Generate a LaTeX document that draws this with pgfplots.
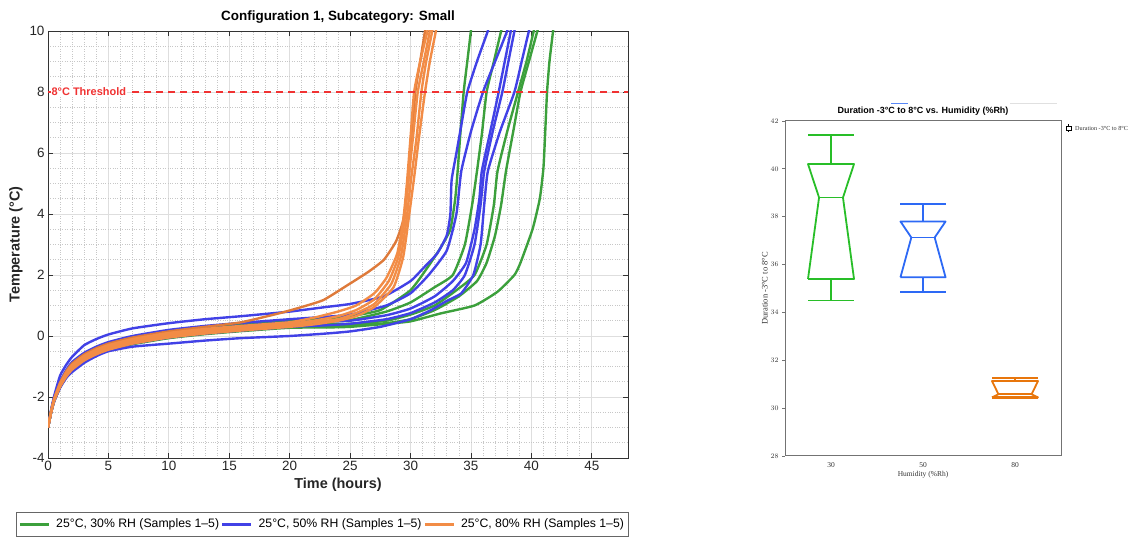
\documentclass[border=0pt]{standalone}
\usepackage{pgfplots}
\pgfplotsset{compat=1.18}
\usepackage{fontspec}
\setmainfont{Liberation Sans}
\newfontfamily\seriffont{Liberation Serif}
\definecolor{cg}{RGB}{60,160,60}
\definecolor{cb}{RGB}{65,65,230}
\definecolor{co}{RGB}{242,140,70}
\definecolor{cod}{RGB}{222,122,58}
\definecolor{bg}{RGB}{40,190,40}
\definecolor{bb}{RGB}{45,105,245}
\definecolor{bo}{RGB}{232,118,12}
\definecolor{thr}{RGB}{240,50,50}
\begin{document}
\begin{tikzpicture}[x=1bp,y=1bp]
\useasboundingbox (0,0) rectangle (1135,538);
% ---------------- left panel ----------------
\begin{axis}[at={(48bp,80bp)}, anchor=south west, width=580bp, height=427bp, scale only axis,
  xmin=0, xmax=48, ymin=-4, ymax=10,
  xtick={0,5,...,45}, ytick={-4,-2,...,10},
  minor x tick num=4, minor y tick num=3,
  grid=both,
  major grid style={black!13, line width=0.7bp},
  minor grid style={black!22, dotted, line width=0.6bp},
  tick align=inside, major tick length=5bp, minor tick length=0pt,
  axis line style={black!80, line width=0.8bp},
  tick style={black!80, line width=0.8bp},
  /pgf/number format/assume math mode=true,
  ticklabel style={font=\fontsize{13.5}{14}\selectfont, text=black!85},
  xlabel={Time (hours)}, ylabel={Temperature (°C)},
  label style={font=\bfseries\fontsize{14.5}{15}\selectfont, text=black!85},
  title={Configuration 1, Subcategory: Small},
  title style={font=\bfseries\fontsize{13.5}{14}\selectfont, yshift=-2bp},
  legend columns=3,
  legend style={at={(0.473,-0.127)}, anchor=north, draw=black!60, line width=0.8bp,
    font=\fontsize{12.3}{13}\selectfont, inner xsep=2bp, inner ysep=4.5bp,
    /tikz/every even column/.append style={column sep=0bp},
    /tikz/every odd column/.append style={column sep=4bp}},
  legend image code/.code={\draw[#1, line width=2.5bp] (0bp,0bp) -- (29bp,0bp);},
  every axis plot/.append style={line width=2.4bp, line join=round, smooth, tension=0.3},
]
\addlegendimage{cg}\addlegendentry{25°C, 30\% RH (Samples 1–5)}
\addlegendimage{cb}\addlegendentry{25°C, 50\% RH (Samples 1–5)}
\addlegendimage{co}\addlegendentry{25°C, 80\% RH (Samples 1–5)}
% green
\addplot[cg, forget plot] coordinates {(0,-3)(0.25,-2.48)(0.5,-2.06)(1,-1.53)(1.5,-1.16)(2,-0.9)(3,-0.6)(4,-0.4)(5,-0.25)(7,-0.05)(10,0.15)(13,0.28)(16,0.38)(20,0.5)(23,0.58)(25,0.65)(27.5,0.85)(30,1.5)(31.5,2.3)(32.5,2.9)(33.3,3.5)(33.7,4.5)(33.9,5.4)(34.1,6.5)(34.4,8)(34.7,9)(35.0,10)(35.1,10.3)};
\addplot[cg, forget plot] coordinates {(0,-3)(0.25,-2.5)(0.5,-2.1)(1,-1.6)(1.5,-1.25)(2,-1.0)(3,-0.7)(4,-0.5)(5,-0.35)(7,-0.15)(10,0.05)(13,0.18)(16,0.28)(20,0.4)(23,0.47)(25,0.52)(28,0.8)(30,1.1)(32,1.6)(33.5,2.0)(34.5,3.0)(35.1,4.3)(35.5,5.4)(35.9,6.6)(36.3,8)(36.9,9)(37.5,10)(37.7,10.3)};
\addplot[cg, forget plot] coordinates {(0,-3)(0.25,-2.51)(0.5,-2.12)(1,-1.64)(1.5,-1.3)(2,-1.05)(3,-0.75)(4,-0.55)(5,-0.4)(7,-0.2)(10,0.0)(13,0.13)(16,0.23)(20,0.35)(23,0.38)(25,0.4)(28,0.5)(30,0.7)(32,1.0)(33.8,1.5)(35.3,2.0)(36.3,3.0)(36.9,4.3)(37.2,5.4)(38.0,6.7)(38.9,8)(39.6,9)(40.2,10)(40.4,10.3)};
\addplot[cg, forget plot] coordinates {(0,-3)(0.25,-2.52)(0.5,-2.14)(1,-1.67)(1.5,-1.34)(2,-1.1)(3,-0.8)(4,-0.6)(5,-0.45)(7,-0.25)(10,-0.05)(13,0.08)(16,0.18)(20,0.3)(23,0.32)(25,0.35)(28,0.42)(30,0.55)(32,0.85)(34,1.3)(35.5,1.8)(36.3,2.4)(37.0,3.3)(37.5,4.3)(37.9,5.4)(38.5,6.7)(39.1,8)(39.8,9)(40.5,10)(40.7,10.3)};
\addplot[cg, forget plot] coordinates {(0,-3)(0.25,-2.52)(0.5,-2.15)(1,-1.68)(1.5,-1.36)(2,-1.12)(3,-0.82)(4,-0.62)(5,-0.47)(7,-0.27)(10,-0.07)(13,0.06)(16,0.16)(20,0.27)(23,0.28)(25,0.3)(28,0.4)(30,0.48)(32.5,0.74)(35.3,1.0)(37.2,1.45)(38.6,2.0)(39.1,2.4)(40.1,3.5)(40.7,4.5)(41.0,5.5)(41.15,6.7)(41.3,8)(41.5,9)(41.8,10)(41.9,10.3)};
% blue
\addplot[cb, forget plot] coordinates {(0,-3)(0.25,-2.44)(0.5,-1.98)(1,-1.3)(1.5,-0.95)(2,-0.68)(3,-0.3)(4,-0.1)(5,0.05)(7,0.25)(10,0.42)(13,0.55)(16,0.65)(20,0.8)(23,0.95)(25,1.05)(27.8,1.3)(30,1.8)(31,2.2)(32.2,2.7)(33,3.3)(33.3,4.0)(33.4,5.1)(33.8,6.0)(34.2,6.9)(34.7,8)(35.5,9)(36.4,10)(36.6,10.3)};
\addplot[cb, forget plot] coordinates {(0,-3)(0.25,-2.47)(0.5,-2.04)(1,-1.5)(1.5,-1.12)(2,-0.85)(3,-0.55)(4,-0.35)(5,-0.2)(7,0.0)(10,0.2)(13,0.33)(16,0.43)(20,0.55)(23,0.63)(25,0.7)(28,1.0)(30,1.4)(31.5,2.0)(33,2.8)(33.8,4.0)(34.2,5.4)(35,6.7)(36.0,8)(37,9)(38.0,10)(38.2,10.3)};
\addplot[cb, forget plot] coordinates {(0,-3)(0.25,-2.49)(0.5,-2.08)(1,-1.56)(1.5,-1.2)(2,-0.95)(3,-0.65)(4,-0.45)(5,-0.3)(7,-0.1)(10,0.1)(13,0.23)(16,0.33)(20,0.45)(23,0.48)(25,0.5)(28,0.68)(30,0.9)(32,1.3)(33.5,1.8)(34.6,2.4)(35.3,3.5)(35.7,4.5)(35.9,5.4)(36.6,6.7)(37.3,8)(37.8,9)(38.3,10)(38.4,10.3)};
\addplot[cb, forget plot] coordinates {(0,-3)(0.25,-2.52)(0.5,-2.14)(1,-1.67)(1.5,-1.34)(2,-1.1)(3,-0.8)(4,-0.6)(5,-0.45)(7,-0.25)(10,-0.05)(13,0.08)(16,0.18)(20,0.3)(23,0.35)(25,0.4)(28,0.55)(30,0.75)(32,1.1)(33.5,1.5)(34.5,2.0)(35.3,3.0)(35.8,4.3)(36.1,5.4)(36.8,6.7)(37.6,8)(38.1,9)(38.6,10)(38.7,10.3)};
\addplot[cb, forget plot] coordinates {(0,-3)(0.25,-2.53)(0.5,-2.16)(1,-1.7)(1.5,-1.38)(2,-1.18)(3,-0.88)(4,-0.66)(5,-0.5)(7,-0.35)(10,-0.25)(13,-0.15)(16,-0.07)(20,0.0)(23,0.08)(25,0.15)(27.5,0.3)(30,0.55)(31.7,0.85)(33,1.15)(34.2,1.4)(35.2,2.0)(35.8,3.0)(36.1,4.3)(36.4,5.4)(37.4,6.7)(38.6,8)(39.2,9)(39.8,10)(40.0,10.3)};
% orange
\addplot[cod, forget plot] coordinates {(0,-3)(0.25,-2.48)(0.5,-2.06)(1,-1.53)(1.5,-1.16)(2,-0.9)(3,-0.6)(4,-0.4)(5,-0.25)(7,-0.05)(10,0.15)(13,0.3)(16,0.45)(19.2,0.75)(21,0.95)(22.8,1.18)(24.8,1.67)(26.5,2.1)(27.8,2.5)(28.8,3.1)(29.4,3.8)(29.8,5.0)(30.1,6.5)(30.4,8)(30.8,9)(31.2,10)(31.3,10.3)};
\addplot[co, forget plot] coordinates {(0,-3)(0.25,-2.49)(0.5,-2.08)(1,-1.56)(1.5,-1.2)(2,-0.95)(3,-0.65)(4,-0.45)(5,-0.3)(7,-0.1)(10,0.1)(13,0.23)(16,0.33)(20,0.45)(22,0.6)(24,0.8)(25.5,1.0)(27,1.4)(28,1.9)(28.9,2.7)(29.4,3.8)(29.7,5.0)(30.0,6.5)(30.3,8)(30.8,9)(31.4,10)(31.5,10.3)};
\addplot[co, forget plot] coordinates {(0,-3)(0.25,-2.5)(0.5,-2.1)(1,-1.6)(1.5,-1.25)(2,-1.0)(3,-0.7)(4,-0.5)(5,-0.35)(7,-0.15)(10,0.05)(13,0.18)(16,0.28)(20,0.4)(22,0.5)(24,0.65)(25.5,0.85)(27,1.2)(28.2,1.8)(29.0,2.6)(29.5,3.8)(29.8,5.0)(30.2,6.5)(30.6,8)(31.1,9)(31.6,10)(31.7,10.3)};
\addplot[co, forget plot] coordinates {(0,-3)(0.25,-2.51)(0.5,-2.12)(1,-1.64)(1.5,-1.3)(2,-1.05)(3,-0.75)(4,-0.55)(5,-0.4)(7,-0.2)(10,0.0)(13,0.13)(16,0.23)(20,0.35)(22,0.45)(24,0.55)(25.5,0.75)(27,1.05)(28.4,1.7)(29.2,2.6)(29.7,3.9)(30.0,5.0)(30.5,6.5)(30.9,8)(31.3,9)(31.8,10)(31.9,10.3)};
\addplot[co, forget plot] coordinates {(0,-3)(0.25,-2.52)(0.5,-2.14)(1,-1.67)(1.5,-1.34)(2,-1.1)(3,-0.8)(4,-0.6)(5,-0.45)(7,-0.25)(10,-0.05)(13,0.08)(16,0.18)(20,0.3)(22,0.38)(24,0.5)(25.5,0.65)(27,0.95)(28.6,1.6)(29.4,2.6)(29.9,4.0)(30.3,5.2)(30.7,6.5)(31.2,8)(31.6,9)(32.1,10)(32.2,10.3)};
% threshold
\addplot[thr, forget plot, sharp plot, line width=2bp, dash pattern=on 7bp off 5bp] coordinates {(0,8)(48,8)};
\node[anchor=west, fill=white, inner sep=1bp, text=thr, font=\bfseries\fontsize{11}{11}\selectfont] at (axis cs:0.2,8) {8°C Threshold};
\end{axis}
% ---------------- right panel ----------------
\begin{axis}[at={(785bp,82bp)}, anchor=south west, width=276bp, height=335bp, scale only axis,
  xmin=0.5, xmax=3.5, ymin=28, ymax=42,
  xtick={1,2,3}, xticklabels={30,50,80}, ytick={28,30,...,42},
  axis line style={black!55, line width=1bp},
  xtick pos=bottom, ytick pos=left, tick align=outside,
  major tick length=3bp,
  x tick style={draw=none}, y tick style={black!55, line width=0.8bp},
  ticklabel style={font=\seriffont\fontsize{7.5}{8}\selectfont, text=black!80},
  xlabel={Humidity (\%Rh)}, ylabel={Duration -3°C to 8°C},
  xlabel style={font=\seriffont\fontsize{7.5}{8}\selectfont, text=black!80, yshift=3bp},
  ylabel style={font=\seriffont\fontsize{8.5}{9}\selectfont, text=black!80, yshift=-4bp},
  title={Duration -3°C to 8°C vs. Humidity (\%Rh)},
  title style={font=\bfseries\fontsize{9}{10}\selectfont, yshift=-4bp},
  every axis plot/.append style={line join=round, line cap=butt},
]
% 30 %Rh
\addplot[bg, line width=1.8bp] coordinates {(0.75,35.4)(0.87,38.8)(0.75,40.2)(1.25,40.2)(1.13,38.8)(1.25,35.4)(0.75,35.4)};
\addplot[bg, line width=1.8bp] coordinates {(0.87,38.8)(1.13,38.8)};
\addplot[bg, line width=1.8bp] coordinates {(1,40.2)(1,41.4)};
\addplot[bg, line width=1.8bp] coordinates {(0.75,41.4)(1.25,41.4)};
\addplot[bg, line width=1.8bp] coordinates {(1,35.4)(1,34.5)};
\addplot[bg, line width=1.8bp] coordinates {(0.75,34.5)(1.25,34.5)};
% 50 %Rh
\addplot[bb, line width=1.8bp] coordinates {(1.755,35.47)(1.873,37.13)(1.755,37.8)(2.245,37.8)(2.127,37.13)(2.245,35.47)(1.755,35.47)};
\addplot[bb, line width=1.8bp] coordinates {(1.873,37.13)(2.127,37.13)};
\addplot[bb, line width=1.8bp] coordinates {(2,37.8)(2,38.53)};
\addplot[bb, line width=1.8bp] coordinates {(1.755,38.53)(2.245,38.53)};
\addplot[bb, line width=1.8bp] coordinates {(2,35.47)(2,34.87)};
\addplot[bb, line width=1.8bp] coordinates {(1.755,34.87)(2.245,34.87)};
% 80 %Rh
\addplot[bo, line width=1.8bp] coordinates {(2.75,30.45)(2.82,30.58)(2.75,31.13)(3.25,31.13)(3.18,30.58)(3.25,30.45)(2.75,30.45)};
\addplot[bo, line width=1.8bp] coordinates {(2.82,30.58)(3.18,30.58)};
\addplot[bo, line width=1.2bp] coordinates {(3,31.13)(3,31.26)};
\addplot[bo, line width=1.8bp] coordinates {(2.75,31.26)(3.25,31.26)};
\addplot[bo, line width=2.4bp] coordinates {(2.75,30.45)(3.25,30.45)};
\end{axis}
% right legend
\draw[black, line width=0.8bp] (1066,408) rectangle (1071,412);
\draw[black, line width=0.8bp] (1068.5,406) -- (1068.5,408) (1068.5,412) -- (1068.5,414);
\node[anchor=west, inner sep=0pt, font=\seriffont\fontsize{6.2}{7}\selectfont, text=black!80] at (1075,410) {Duration -3°C to 8°C};
% faint decorations above right panel
\draw[bb!80, line width=0.8bp] (891,435) -- (908,435);
\draw[black!12, line width=0.8bp] (1010,435) -- (1057,435);
\end{tikzpicture}
\end{document}
